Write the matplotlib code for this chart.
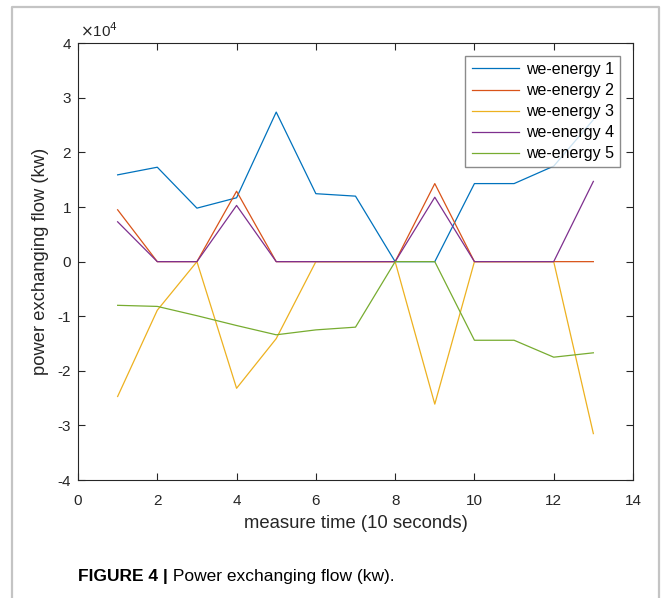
import matplotlib
matplotlib.use("Agg")
import matplotlib.pyplot as plt
from matplotlib.ticker import FuncFormatter, MultipleLocator
from matplotlib.lines import Line2D
from matplotlib import font_manager

plt.rcParams['font.family'] = ['Liberation Sans', 'DejaVu Sans']
plt.rcParams['axes.unicode_minus'] = False

# ---- data (kw) ----
time = [1, 2, 3, 4, 5, 6, 7, 8, 9, 10, 11, 12, 13]
we1 = [15900, 17300, 9800, 11700, 27400, 12450, 12000, 0, 0, 14300, 14300, 17500, 26000]
we2 = [9500, 0, 0, 12900, 0, 0, 0, 0, 14300, 0, 0, 0, 0]
we3 = [-24700, -8900, 0, -23200, -14100, 0, 0, 0, -26100, 0, 0, 0, -31500]
we4 = [7300, 0, 0, 10300, 0, 0, 0, 0, 11800, 0, 0, 0, 14700]
we5 = [-8000, -8200, -9900, -11700, -13400, -12500, -12000, 0, 0, -14400, -14400, -17500, -16700]
series_names = ["we-energy 1", "we-energy 2", "we-energy 3", "we-energy 4", "we-energy 5"]
colors = ["#0072BD", "#D95319", "#EDB120", "#7E2F8E", "#77AC30"]
caption_bold = "FIGURE 4 |"
caption_text = " Power exchanging flow (kw)."

W, H = 667, 598
fig = plt.figure(figsize=(W / 100, H / 100), dpi=100)

# outer gray frame
frame = Line2D([12 / W, 12 / W, 659 / W, 659 / W], [0, 1 - 7 / H, 1 - 7 / H, 0],
               transform=fig.transFigure, color="#c4c4c4", lw=1.6)
fig.add_artist(frame)

ax = fig.add_axes([78 / W, 1 - 480 / H, (633 - 78) / W, (480 - 43.3) / H])
for ys, c, n in zip([we1, we2, we3, we4, we5], colors, series_names):
    ax.plot(time, ys, color=c, lw=0.9, label=n)

ax.set_xlim(0, 14)
ax.set_ylim(-40000, 40000)
ax.xaxis.set_major_locator(MultipleLocator(2))
ax.yaxis.set_major_locator(MultipleLocator(10000))
ax.yaxis.set_major_formatter(FuncFormatter(lambda v, p: f"{v / 1e4:g}"))
ax.tick_params(direction="in", top=True, right=True, length=5, width=0.8,
               labelsize=11, colors="#262626")
ax.tick_params(axis="x", pad=10)
ax.tick_params(axis="y", pad=5)
for s in ax.spines.values():
    s.set_color("#262626")
    s.set_linewidth(0.8)

ax.set_xlabel("measure time (10 seconds)", fontsize=13.3, color="#262626", labelpad=5)
ax.set_ylabel("power exchanging flow (kw)", fontsize=13.2, color="#262626", labelpad=6)
ax.text(0.003, 1.008, r"$\times$10$^{4}$", transform=ax.transAxes, fontsize=11,
        color="#262626", ha="left", va="bottom")

leg = ax.legend(loc="upper right", bbox_to_anchor=(620 / W, 1 - 56 / H),
                bbox_transform=fig.transFigure, fontsize=11.5, frameon=True,
                fancybox=False, edgecolor="#6e6e6e", handlelength=3.0,
                handletextpad=0.4, borderpad=0.38, labelspacing=0.38,
                borderaxespad=0)
leg.get_frame().set_linewidth(1.0)

# caption
names = {f.name for f in font_manager.fontManager.ttflist}
cap_fam = ['Liberation Sans Narrow'] if 'Liberation Sans Narrow' in names else ['Liberation Sans']
t1 = fig.text(78 / W, 1 - 576 / H, caption_bold, fontsize=12.5, fontweight="bold",
              family=cap_fam, va="center", ha="left")
fig.canvas.draw()
bb = t1.get_window_extent()
fig.text(bb.x1 / W, 1 - 576 / H, caption_text, fontsize=12.5, family=cap_fam,
         va="center", ha="left")

fig.savefig("out.png", dpi=100)
